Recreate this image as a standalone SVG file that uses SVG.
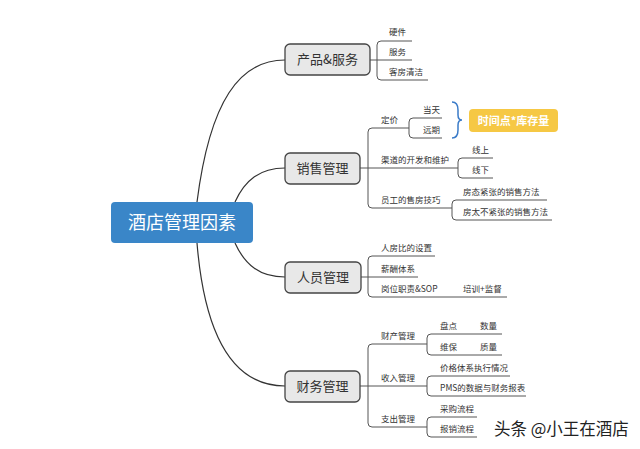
<svg xmlns="http://www.w3.org/2000/svg" width="640" height="449" viewBox="0 0 640 449">
<style>
.main rect{fill:#e8e8e8;stroke:#444;stroke-width:1.3}
.main text{font-family:"Noto Sans CJK SC","Noto Sans",sans-serif;font-size:13px;fill:#333;text-anchor:middle}
.t{font-family:"Noto Sans CJK SC","Noto Sans",sans-serif;font-size:8.5px;fill:#333}
.br{fill:none;stroke:#555;stroke-width:1}
.cv{fill:none;stroke:#333;stroke-width:1.2}
</style>
<rect width="640" height="449" fill="#ffffff"/>
<g id="connectors">
<path class="cv" d="M197 202 C210 100 240 60 285 60"/>
<path class="cv" d="M235 202 C245 180 260 168 285 168"/>
<path class="cv" d="M235 243 C245 265 260 277 285 277"/>
<path class="cv" d="M197 243 C205 340 235 386 285 386"/>
<path class="br" d="M412 41 H381 Q377 41 377 45 V76 Q377 80 381 80 H428 M370 60 H412"/>
<path class="br" d="M409 128 H372 Q368 128 368 132 V204 Q368 208 372 208 H452 M360 168 H458"/>
<path class="br" d="M442 118 H413 Q409 118 409 122 V134 Q409 138 413 138 H442"/>
<path class="br" d="M493 158 H462 Q458 158 458 162 V174 Q458 178 462 178 H493"/>
<path class="br" d="M547 200 H456 Q452 200 452 204 V216 Q452 220 456 220 H552"/>
<path class="br" d="M435 256 H372 Q368 256 368 260 V293 Q368 297 372 297 H507 M361 277 H418"/>
<path class="br" d="M427 344 H372 Q368 344 368 348 V423 Q368 427 372 427 H427 M360 386 H427"/>
<path class="br" d="M502 334 H431 Q427 334 427 338 V351 Q427 355 431 355 H502"/>
<path class="br" d="M510 376 H431 Q427 376 427 380 V392 Q427 396 431 396 H526"/>
<path class="br" d="M477 417 H431 Q427 417 427 421 V433 Q427 437 431 437 H477"/>
<path d="M452 102 Q458 102 458 110 V115 Q458 120 462 120 Q458 120 458 125 V130 Q458 138 452 138" fill="none" stroke="#3a7bc8" stroke-width="1.5"/>
</g>
<g id="root">
<rect x="111" y="202" width="142" height="41" rx="4" fill="#3a86c8"/>
<text x="182" y="229" font-family="Noto Sans CJK SC,Noto Sans,sans-serif" font-size="18" fill="#ffffff" text-anchor="middle">酒店管理因素</text>
</g>
<g id="n-product" class="main"><rect x="285" y="44" width="85" height="31" rx="5"/><text x="327.5" y="64">产品&amp;服务</text></g>
<g id="n-sales" class="main"><rect x="285" y="153" width="75" height="31" rx="5"/><text x="322.5" y="173">销售管理</text></g>
<g id="n-staff" class="main"><rect x="285" y="262" width="76" height="31" rx="5"/><text x="323" y="282">人员管理</text></g>
<g id="n-finance" class="main"><rect x="285" y="371" width="75" height="31" rx="5"/><text x="322.5" y="391">财务管理</text></g>
<g id="leaves">
<text class="t" x="389" y="35">硬件</text>
<text class="t" x="389" y="54.5">服务</text>
<text class="t" x="389" y="74.5">客房清洁</text>
<text class="t" x="381" y="122.5">定价</text>
<text class="t" x="423" y="112.5">当天</text>
<text class="t" x="423" y="132.5">远期</text>
<text class="t" x="381" y="162.5">渠道的开发和维护</text>
<text class="t" x="472" y="152.5">线上</text>
<text class="t" x="472" y="172.5">线下</text>
<text class="t" x="381" y="202.5">员工的售房技巧</text>
<text class="t" x="463" y="194.5">房态紧张的销售方法</text>
<text class="t" x="463" y="214.5">房太不紧张的销售方法</text>
<text class="t" x="381" y="250.5">人房比的设置</text>
<text class="t" x="381" y="271.5">薪酬体系</text>
<text class="t" x="381" y="291.5">岗位职责&amp;SOP</text>
<text class="t" x="463" y="291.5">培训+监督</text>
<text class="t" x="381" y="338.5">财产管理</text>
<text class="t" x="440" y="328.5">盘点</text>
<text class="t" x="480" y="328.5">数量</text>
<text class="t" x="440" y="349.5">维保</text>
<text class="t" x="480" y="349.5">质量</text>
<text class="t" x="381" y="380.5">收入管理</text>
<text class="t" x="440" y="370.5">价格体系执行情况</text>
<text class="t" x="440" y="390.5">PMS的数据与财务报表</text>
<text class="t" x="381" y="421.5">支出管理</text>
<text class="t" x="440" y="411.5">采购流程</text>
<text class="t" x="440" y="431.5">报销流程</text>
</g>
<g id="callout">
<rect x="469" y="109" width="89" height="23" rx="4" fill="#f6c844"/>
<text x="513.5" y="124.5" font-family="Noto Sans CJK SC,Noto Sans,sans-serif" font-size="11" font-weight="bold" fill="#ffffff" text-anchor="middle">时间点*库存量</text>
</g>
<text x="494" y="435" font-family="Noto Sans CJK SC,Noto Sans,sans-serif" font-size="16.5" fill="#222">头条 @小王在酒店</text>
</svg>
